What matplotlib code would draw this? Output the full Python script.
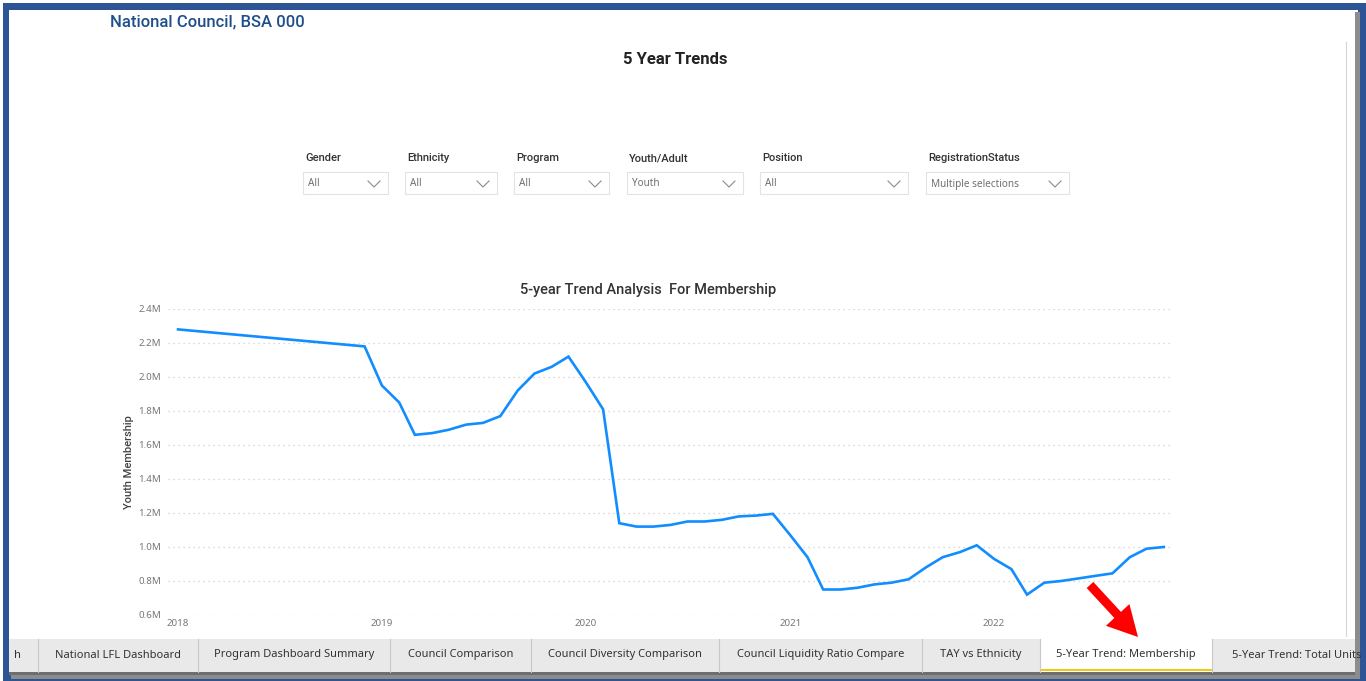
import matplotlib
matplotlib.use('Agg')
import matplotlib.pyplot as plt
from matplotlib.patches import Rectangle, FancyArrow
from matplotlib.ticker import FuncFormatter
import numpy as np
import pandas as pd

# monthly youth membership (millions), first point is the 2018 start
dates = ['2018-01-01', '2018-12-01',
         '2019-01-01', '2019-02-01', '2019-03-01', '2019-04-01', '2019-05-01', '2019-06-01',
         '2019-07-01', '2019-08-01', '2019-09-01', '2019-10-01', '2019-11-01', '2019-12-01',
         '2020-01-01', '2020-02-01', '2020-03-01', '2020-04-01', '2020-05-01', '2020-06-01',
         '2020-07-01', '2020-08-01', '2020-09-01', '2020-10-01', '2020-11-01', '2020-12-01',
         '2021-01-01', '2021-02-01', '2021-03-01', '2021-04-01', '2021-05-01', '2021-06-01',
         '2021-07-01', '2021-08-01', '2021-09-01', '2021-10-01', '2021-11-01', '2021-12-01',
         '2022-01-01', '2022-02-01', '2022-03-01', '2022-04-01', '2022-05-01', '2022-06-01',
         '2022-07-01', '2022-08-01', '2022-09-01', '2022-10-01', '2022-11-01']
membership = [2.28, 2.18,
              1.95, 1.85, 1.66, 1.67, 1.69, 1.72, 1.73, 1.77, 1.92, 2.02, 2.06, 2.12,
              1.97, 1.81, 1.14, 1.12, 1.12, 1.13, 1.15, 1.15, 1.16, 1.18, 1.185, 1.195,
              1.07, 0.94, 0.75, 0.75, 0.76, 0.78, 0.79, 0.81, 0.88, 0.94, 0.97, 1.01,
              0.93, 0.87, 0.72, 0.79, 0.80, 0.815, 0.83, 0.845, 0.94, 0.99, 1.00]
year_ticks = ['2018', '2019', '2020', '2021', '2022']

slicer_names = ['Gender', 'Ethnicity', 'Program', 'Youth/Adult', 'Position', 'RegistrationStatus']
slicer_values = ['All', 'All', 'All', 'Youth', 'All', 'Multiple selections']
tab_names = ['h', 'National LFL Dashboard', 'Program Dashboard Summary', 'Council Comparison',
             'Council Diversity Comparison', 'Council Liquidity Ratio Compare', 'TAY vs Ethnicity',
             '5-Year Trend: Membership', '5-Year Trend: Total Units']
active_tab = '5-Year Trend: Membership'

W, H = 1366, 681
fig = plt.figure(figsize=(W / 100, H / 100), dpi=100)
fig.patch.set_facecolor('white')
plt.rcParams['font.family'] = ['Noto Sans', 'DejaVu Sans']

# background layer in pixel coordinates
bg = fig.add_axes([0, 0, 1, 1], zorder=0)
bg.set_xlim(0, W)
bg.set_ylim(H, 0)
bg.axis('off')

bg.add_patch(Rectangle((3, 3), W - 3, H - 3, color='#2d5596', lw=0))
bg.add_patch(Rectangle((11, 12), 1353, 667, color='#8c8c8c', lw=0))
bg.add_patch(Rectangle((9, 10), 1351, 665, color='white', lw=0))

bg.text(110, 22, 'National Council, BSA 000', color='#1f4e8c', fontsize=12,
        family='Roboto', weight='medium', va='center')
bg.text(675, 59, '5 Year Trends', color='#222222', fontsize=12, family='Roboto',
        weight='bold', ha='center', va='center')

# slicers
box_x = [303, 405, 514, 627, 760, 926]
box_w = [85, 92, 95, 116, 148, 143]
for name, val, x0, w in zip(slicer_names, slicer_values, box_x, box_w):
    bg.text(x0 + 2, 158, name, fontsize=8, color='#333333', va='center',
            family='Roboto', weight='medium')
    bg.add_patch(Rectangle((x0, 172), w, 22, fill=False, ec='#e3e3e3', lw=0.8))
    bg.text(x0 + 5, 184, val, fontsize=7.2, color='#707070', va='center')
    cx = x0 + w - 14
    bg.plot([cx - 6, cx, cx + 6], [181, 187, 181], color='#8a8a8a', lw=0.8)

bg.text(648, 290, '5-year Trend Analysis  For Membership', fontsize=10.5, color='#333333',
        family='Roboto', weight='medium', ha='center', va='center')

# scrollbar line at right
bg.plot([1346, 1346], [42, 636], color='#d6d6d6', lw=0.8)

# tab bar
bg.add_patch(Rectangle((9, 672), 1351, 3, color='#6e6e6e', lw=0))
bg.add_patch(Rectangle((9, 639), 1351, 33, color='#e9e9e9', lw=0))
seps = [38, 198, 390, 531, 719, 922, 1040, 1212]
edges = [9] + seps + [1358]
for i, name in enumerate(tab_names):
    l, r = edges[i], edges[i + 1]
    if name == active_tab:
        bg.add_patch(Rectangle((l, 639), r - l, 33, color='white', lw=0))
        bg.add_patch(Rectangle((l, 669), r - l, 2, color='#f2c811', lw=0))
    if i == 0:
        bg.text(14, 655, name, fontsize=8, color='#333333', va='center')
    elif i == len(tab_names) - 1:
        bg.text(l + 20, 655, name, fontsize=8, color='#333333', va='center')
    else:
        bg.text((l + r) / 2, 655, name, fontsize=8, color='#333333', ha='center', va='center')
for s in seps:
    bg.plot([s, s], [639, 672], color='#c8c8c8', lw=0.8)
bg.add_patch(Rectangle((1358, 10), 8, 671, color='#2d5596', lw=0))
bg.add_patch(Rectangle((1355, 12), 5, 667, color='#8c8c8c', lw=0))

# line chart
L, R, T, B = 168, 1170, 309, 615
ax = fig.add_axes([L / W, 1 - B / H, (R - L) / W, (B - T) / H], zorder=1)
ax.patch.set_alpha(0)
x = pd.to_datetime(dates)
ax.plot(x, membership, color='#118dff', lw=1.9, solid_joinstyle='miter')
ax.set_xlim(pd.Timestamp('2017-12-14'), pd.Timestamp('2022-11-12'))
ax.set_ylim(0.6, 2.4)
ax.set_yticks(np.arange(0.6, 2.41, 0.2))
ax.yaxis.set_major_formatter(FuncFormatter(lambda v, p: f'{v:.1f}M'))
ax.set_xticks(pd.to_datetime([y + '-01-01' for y in year_ticks]))
ax.set_xticklabels(year_ticks)
ax.tick_params(length=0, labelsize=7, labelcolor='#777777')
ax.tick_params(axis='y', pad=5)
ax.tick_params(axis='x', pad=3)
ax.grid(axis='y', color='#cfcfcf', lw=0.9, linestyle=(0, (1, 3)))
ax.set_axisbelow(True)
for sp in ax.spines.values():
    sp.set_visible(False)
ax.set_ylabel('Youth Membership', fontsize=8, color='#444444', labelpad=3,
              family='Roboto', weight='medium')

# red pointer arrow
fg = fig.add_axes([0, 0, 1, 1], zorder=2)
fg.set_xlim(0, W)
fg.set_ylim(H, 0)
fg.axis('off')
fg.add_patch(FancyArrow(1090, 585, 48, 52, width=9, head_width=32, head_length=30,
                        length_includes_head=True, color='#ff0000', lw=0))

fig.savefig('out.png', dpi=100)
